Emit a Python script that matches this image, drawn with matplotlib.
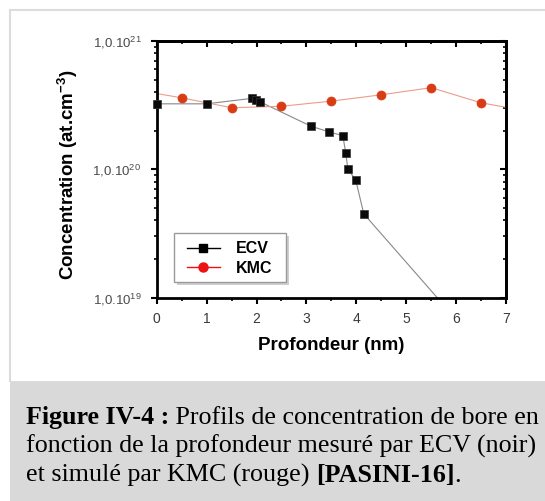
import numpy as np
import matplotlib
matplotlib.use("Agg")
import matplotlib.pyplot as plt
from matplotlib.lines import Line2D
from matplotlib.patches import Rectangle
from matplotlib.ticker import LogLocator, FuncFormatter, MultipleLocator, NullFormatter

plt.rcParams['font.family'] = ['Liberation Sans', 'DejaVu Sans']
plt.rcParams['mathtext.default'] = 'regular'

# ---- data ----
ecv_depth = [0.0, 1.0, 1.90, 1.99, 2.07, 3.09, 3.45, 3.73, 3.79, 3.83, 3.99, 4.15, 6.0]
ecv_conc = [3.24e20, 3.24e20, 3.57e20, 3.46e20, 3.36e20, 2.17e20, 1.96e20, 1.83e20,
            1.33e20, 1.01e20, 8.2e19, 4.5e19, 6.8e18]
kmc_depth = [-0.5, 0.5, 1.5, 2.5, 3.5, 4.5, 5.5, 6.5, 7.5]
kmc_conc = [4.2e20, 3.61e20, 3.02e20, 3.10e20, 3.40e20, 3.81e20, 4.33e20, 3.30e20, 2.81e20]
series_labels = ["ECV", "KMC"]
x_label = "Profondeur (nm)"
y_label = "Concentration (at.cm$^{-3}$)"
caption = [
    [("Figure IV-4 :", "bold"), (" Profils de concentration de bore en", "normal")],
    [("fonction de la profondeur mesuré par ECV (noir)", "normal")],
    [("et simulé par KMC (rouge) ", "normal"), ("[PASINI-16]", "bold"), (".", "normal")],
]

W, H = 545, 501
fig = plt.figure(figsize=(W / 100, H / 100), dpi=100)
fig.patch.set_facecolor('white')

# frame and caption box
fig.patches.append(Rectangle((10 / W, (H - 382) / H), (W - 10) / W + 0.01, (382 - 10) / H,
                             transform=fig.transFigure, fill=False,
                             edgecolor='#dcdcdc', lw=1.5, zorder=0))
fig.patches.append(Rectangle((10 / W, 0), (W - 10) / W, (H - 382) / H,
                             transform=fig.transFigure, facecolor='#d9d9d9',
                             edgecolor='none', zorder=0))

left, right, top, bottom = 156.7, 506.0, 41.0, 297.7
aw, ah = right - left, bottom - top
ax = fig.add_axes([left / W, 1 - bottom / H, aw / W, ah / H])
ax.set_yscale('log')
ax.set_xlim(0, 7)
ax.set_ylim(1e19, 1e21)

ex = np.array(ecv_depth); ey = np.array(ecv_conc)
kx = np.array(kmc_depth); ky = np.array(kmc_conc)

# lines (clipped)
ax.plot(ex, ey, color='#888888', lw=0.8, zorder=2)
ax.plot(kx, ky, color='#eb9c8c', lw=0.8, zorder=2)
# markers (not clipped, only points inside the frame)
me = (ex >= 0) & (ex <= 7) & (ey >= 1e19) & (ey <= 1e21)
ax.plot(ex[me], ey[me], ls='none', marker='s', ms=5.5, color='#0a0a0a',
        mec='#333333', mew=0.5, clip_on=False, zorder=4)
mk = (kx >= 0) & (kx <= 7) & (ky >= 1e19) & (ky <= 1e21)
ax.plot(kx[mk], ky[mk], ls='none', marker='o', ms=6.5, color='#d83c14',
        mec='#d83c14', mew=0.5, clip_on=False, zorder=4)

for s in ax.spines.values():
    s.set_linewidth(2)

ax.xaxis.set_major_locator(MultipleLocator(1))
ax.xaxis.set_minor_locator(MultipleLocator(0.5))
ax.yaxis.set_major_locator(LogLocator(base=10, numticks=10))
ax.yaxis.set_minor_locator(LogLocator(base=10, subs=np.arange(2, 10), numticks=10))
ax.yaxis.set_minor_formatter(NullFormatter())
ax.yaxis.set_major_formatter(FuncFormatter(lambda v, p: r'1,0.10$^{%d}$' % round(np.log10(v))))

ax.tick_params(which='major', direction='out', length=4, width=1.5, labelsize=10,
               labelcolor='#3a3a3a', pad=6, top=False, right=False)
ax.tick_params(axis='y', which='major', labelsize=9.5, labelcolor='#4a4a4a', pad=7)
ax.tick_params(which='minor', direction='out', length=2.5, width=1.2, top=False, right=False)

# mirrored inward ticks on top and right
axt = ax.secondary_xaxis('top')
axt.xaxis.set_major_locator(MultipleLocator(1))
axt.xaxis.set_minor_locator(MultipleLocator(0.5))
axt.tick_params(which='major', direction='in', length=4, width=1.5, labeltop=False)
axt.tick_params(which='minor', direction='in', length=2.5, width=1.2)
axr = ax.secondary_yaxis('right')
axr.yaxis.set_major_locator(LogLocator(base=10, numticks=10))
axr.yaxis.set_minor_locator(LogLocator(base=10, subs=np.arange(2, 10), numticks=10))
axr.yaxis.set_minor_formatter(NullFormatter())
axr.tick_params(which='major', direction='in', length=4, width=1.5, labelright=False)
axr.tick_params(which='minor', direction='in', length=2.5, width=1.2)
for sa in (axt, axr):
    for s in sa.spines.values():
        s.set_linewidth(2)

ax.set_xlabel(x_label, fontsize=13.5, fontweight='bold', labelpad=8)
ax.set_ylabel(y_label, fontsize=13.5, fontweight='bold')
ax.yaxis.set_label_coords((80 - left) / aw, 0.48)

# legend box with soft shadow
bx0, by0, bx1, by1 = 174.0, 233.3, 285.7, 281.7
def px2ax(x, y):
    return (x - left) / aw, (bottom - y) / ah
lx, ly = px2ax(bx0, by1)
bw, bh = (bx1 - bx0) / aw, (by1 - by0) / ah
ax.add_patch(Rectangle((lx + 3 / aw, ly - 3 / ah), bw, bh, transform=ax.transAxes,
                       facecolor='#c4c4c4', edgecolor='none', alpha=0.8, zorder=5))
ax.add_patch(Rectangle((lx, ly), bw, bh, transform=ax.transAxes,
                       facecolor='white', edgecolor='#9a9a9a', lw=1, zorder=6))

handles = [Line2D([], [], color='black', lw=1, marker='s', ms=6),
           Line2D([], [], color='#ee1111', lw=1, marker='o', ms=6.5)]
hx, hy = px2ax(186.7, 276.0)
leg = ax.legend(handles, series_labels, loc='lower left', bbox_to_anchor=(hx, hy),
                borderaxespad=0, borderpad=0, frameon=False,
                prop={'weight': 'bold', 'size': 11.5},
                handlelength=2.1, handletextpad=0.95, labelspacing=0.3)
leg.set_zorder(7)

# caption
renderer = fig.canvas.get_renderer()
baselines = [424, 453, 482]
for line, yb in zip(caption, baselines):
    x = 26 / W
    for txt, wt in line:
        t = fig.text(x, 1 - yb / H, txt, family=['Liberation Serif', 'DejaVu Serif'],
                     fontsize=18.7, fontweight=wt, va='baseline', ha='left', color='black')
        bb = t.get_window_extent(renderer)
        x = bb.x1 / W

fig.savefig('out.png', dpi=100)
